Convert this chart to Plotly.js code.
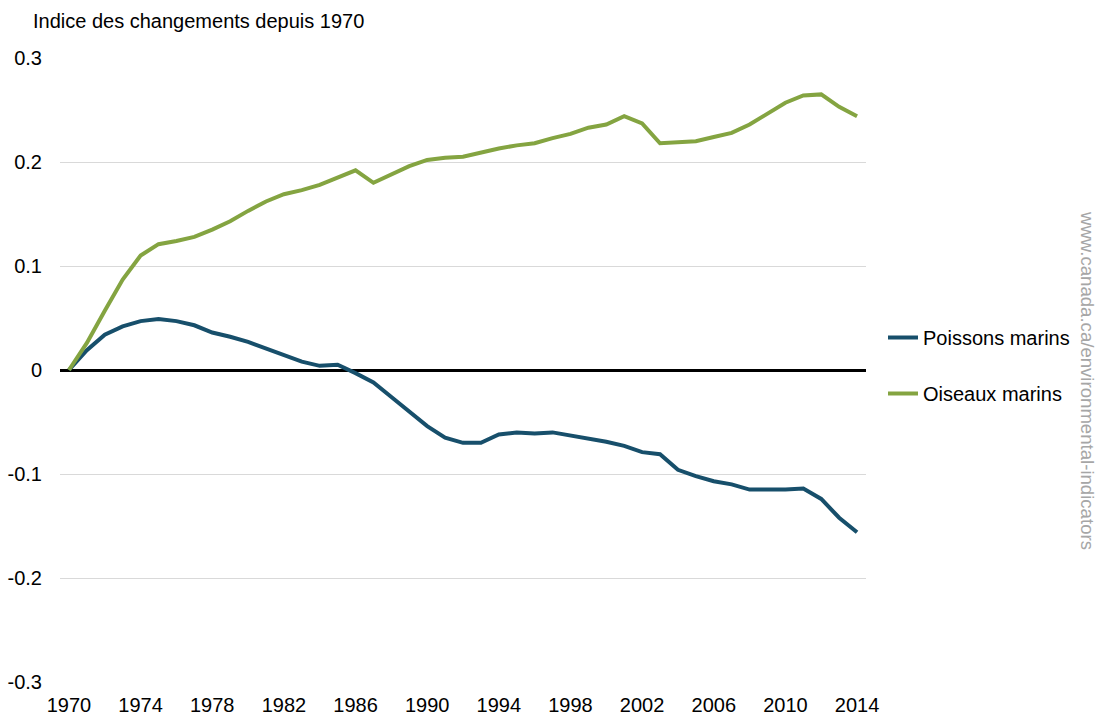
<!DOCTYPE html>
<html>
<head>
<meta charset="utf-8">
<script src="https://cdn.plot.ly/plotly-3.0.1.min.js"></script>
<style>
  html, body { margin: 0; padding: 0; background: #ffffff; }
  #chart { width: 1099px; height: 715px; }
</style>
</head>
<body>
<div id="chart"></div>
<script>
const years = [1970,1971,1972,1973,1974,1975,1976,1977,1978,1979,
               1980,1981,1982,1983,1984,1985,1986,1987,1988,1989,
               1990,1991,1992,1993,1994,1995,1996,1997,1998,1999,
               2000,2001,2002,2003,2004,2005,2006,2007,2008,2009,
               2010,2011,2012,2013,2014];

const poissonsMarins = [0,0.019,0.034,0.042,0.047,0.049,0.047,0.043,0.036,0.032,
                        0.027,0.021,0.014,0.008,0.004,0.005,-0.003,-0.012,-0.026,-0.040,
                        -0.054,-0.065,-0.070,-0.070,-0.062,-0.060,-0.061,-0.060,-0.063,-0.066,
                        -0.069,-0.073,-0.079,-0.081,-0.096,-0.102,-0.107,-0.110,-0.115,-0.115,
                        -0.115,-0.114,-0.124,-0.142,-0.156];

const oiseauxMarins = [0,0.026,0.057,0.087,0.110,0.121,0.124,0.128,0.135,0.143,
                       0.153,0.162,0.169,0.173,0.178,0.185,0.192,0.180,0.188,0.196,
                       0.202,0.204,0.205,0.209,0.213,0.216,0.218,0.223,0.227,0.233,
                       0.236,0.244,0.237,0.218,0.219,0.220,0.224,0.228,0.236,0.246,
                       0.257,0.264,0.265,0.253,0.244];

const seriesNames = ["Poissons marins", "Oiseaux marins"];
const xTickVals = [1970,1974,1978,1982,1986,1990,1994,1998,2002,2006,2010,2014];
const yTickVals = [-0.3,-0.2,-0.1,0,0.1,0.2,0.3];
const yTickText = ["-0.3","-0.2","-0.1","0","0.1","0.2","0.3"];
const titleText = "Indice des changements depuis 1970";
const sourceText = "www.canada.ca/environmental-indicators";

const FONT = "Liberation Sans, Arial, sans-serif";
const FS = 20;

const traces = [
  {
    x: years, y: poissonsMarins, name: seriesNames[0], type: "scatter", mode: "lines",
    line: { color: "#174f6b", width: 4 }, legendgroup: "a"
  },
  {
    x: years, y: oiseauxMarins, name: seriesNames[1], type: "scatter", mode: "lines",
    line: { color: "#84a441", width: 4 }, legendgroup: "b"
  }
];

const layout = {
  width: 1099, height: 715,
  paper_bgcolor: "#ffffff", plot_bgcolor: "#ffffff",
  margin: { l: 60, r: 233, t: 58, b: 33 },
  font: { family: FONT, size: FS, color: "#000000" },
  title: {
    text: titleText, xref: "container", yref: "container",
    x: 33/1099, xanchor: "left", y: 1 - 21/715, yanchor: "middle",
    font: { family: FONT, size: FS, color: "#000000" }
  },
  xaxis: {
    type: "linear", range: [1969.5, 2014.5],
    tickvals: xTickVals, showgrid: false, zeroline: false, showline: false,
    ticks: "outside", ticklen: 5, tickcolor: "rgba(0,0,0,0)",
    tickfont: { family: FONT, size: FS, color: "#000000" }
  },
  yaxis: {
    range: [-0.3, 0.3], tickvals: yTickVals, ticktext: yTickText,
    showgrid: true, gridcolor: "#d9d9d9", gridwidth: 1,
    zeroline: true, zerolinecolor: "#000000", zerolinewidth: 3,
    showline: false, ticks: "outside", ticklen: 13, tickcolor: "rgba(0,0,0,0)",
    tickfont: { family: FONT, size: FS, color: "#000000" }
  },
  showlegend: true,
  legend: {
    x: (883 - 60) / 806, xanchor: "left", xref: "paper",
    y: (682 - 318) / 624, yanchor: "top", yref: "paper",
    bgcolor: "rgba(0,0,0,0)", borderwidth: 0,
    tracegroupgap: 27, itemwidth: 30,
    font: { family: FONT, size: FS, color: "#000000" }
  },
  annotations: [
    {
      text: sourceText, xref: "paper", yref: "paper",
      x: (1087 - 60) / 806, y: (682 - 380) / 624,
      xanchor: "center", yanchor: "middle", textangle: 90, showarrow: false,
      font: { family: FONT, size: 18.6, color: "#a6a6a6" }
    }
  ]
};

Plotly.newPlot("chart", traces, layout, { displayModeBar: false, responsive: false });
</script>
</body>
</html>
